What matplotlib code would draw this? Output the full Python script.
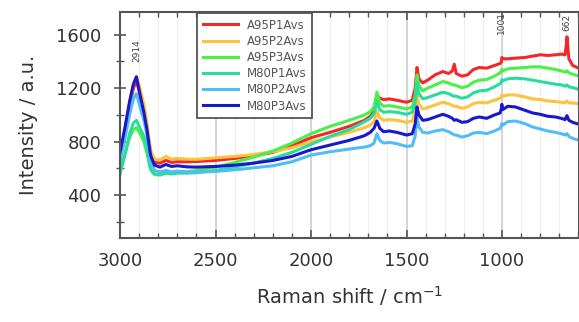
import matplotlib
matplotlib.use("Agg")
import matplotlib.pyplot as plt
from matplotlib.ticker import MultipleLocator

plt.rcParams['font.family'] = ['DejaVu Sans']

shift = [3000, 2975, 2950, 2930, 2914, 2895, 2875, 2860, 2840, 2820,
         2790, 2760, 2730, 2700, 2650, 2600, 2500, 2400, 2300, 2200,
         2100, 2000, 1900, 1800, 1720, 1690, 1670, 1655, 1640, 1620,
         1590, 1550, 1500, 1470, 1455, 1445, 1435, 1415, 1390, 1350,
         1310, 1280, 1260, 1250, 1240, 1210, 1180, 1150, 1120, 1080,
         1040, 1010, 1003, 1001, 996, 970, 930, 880, 840, 800,
         760, 720, 690, 670, 664, 660, 650, 630, 607]

a95p1 = [680, 860, 1060, 1200, 1250, 1160, 1050, 920, 710, 645,
         640, 660, 645, 650, 650, 652, 660, 675, 695, 720,
         770, 830, 870, 915, 960, 990, 1030, 1150, 1125, 1115,
         1120, 1110, 1095, 1110, 1200, 1355, 1270, 1240, 1260, 1300,
         1325, 1310, 1330, 1380, 1310, 1290, 1300, 1340, 1355, 1350,
         1370, 1385, 1395, 1430, 1420, 1420, 1425, 1430, 1440, 1450,
         1445, 1450, 1455, 1450, 1520, 1585, 1420, 1370, 1355]

a95p2 = [700, 880, 1090, 1230, 1290, 1200, 1080, 950, 740, 670,
         665, 690, 670, 675, 670, 668, 680, 690, 705, 725,
         755, 800, 835, 870, 905, 925, 950, 1030, 980, 960,
         965, 960, 945, 955, 1020, 1150, 1080, 1045, 1055, 1075,
         1095, 1085, 1070, 1065, 1065, 1050, 1060, 1085, 1095, 1090,
         1110, 1125, 1140, 1150, 1140, 1150, 1150, 1135, 1120, 1115,
         1105, 1100, 1095, 1090, 1100, 1105, 1090, 1090, 1085]

a95p3 = [570, 700, 830, 890, 905, 860, 800, 720, 590, 555,
         550, 565, 560, 570, 575, 585, 610, 645, 685, 730,
         790, 860, 915, 960, 1000, 1025, 1060, 1170, 1090, 1065,
         1070, 1060, 1045, 1060, 1140, 1300, 1220, 1180, 1200, 1225,
         1250, 1240, 1225, 1225, 1220, 1205, 1215, 1245, 1260, 1265,
         1290, 1315, 1330, 1340, 1330, 1345, 1350, 1355, 1360, 1360,
         1350, 1340, 1330, 1320, 1325, 1330, 1315, 1305, 1295]

m80p1 = [560, 700, 860, 940, 960, 900, 840, 760, 600, 560,
         555, 565, 560, 565, 565, 568, 585, 610, 640, 675,
         720, 780, 840, 890, 950, 975, 1010, 1100, 1040, 1020,
         1025, 1020, 1005, 1020, 1090, 1240, 1160, 1120, 1130, 1150,
         1170, 1160, 1145, 1140, 1140, 1125, 1135, 1165, 1180, 1185,
         1210, 1235, 1250, 1265, 1255, 1270, 1275, 1270, 1260, 1250,
         1240, 1230, 1225, 1215, 1220, 1225, 1210, 1205, 1195]

m80p2 = [650, 820, 1000, 1120, 1160, 1060, 960, 860, 650, 585,
         575, 585, 575, 580, 575, 572, 578, 590, 605, 620,
         650, 700, 725, 745, 760, 770, 790, 860, 810, 790,
         795, 785, 765, 770, 840, 980, 910, 870, 865, 880,
         890, 875, 860, 850, 850, 835, 845, 865, 870, 860,
         880, 900, 920, 935, 925, 950, 955, 935, 910, 895,
         880, 870, 860, 850, 855, 860, 840, 825, 815]

m80p3 = [720, 900, 1100, 1230, 1285, 1150, 1020, 900, 700, 625,
         610, 630, 615, 620, 612, 610, 615, 625, 640, 660,
         690, 740, 775, 810, 845, 870, 900, 955, 900, 875,
         880, 870, 850, 860, 930, 1060, 1000, 960, 965, 985,
         1005, 990, 975, 960, 965, 945, 950, 975, 985, 975,
         1000, 1015, 1050, 1080, 1040, 1065, 1060, 1035, 1015, 1005,
         990, 985, 975, 965, 985, 995, 960, 945, 935]

labels = ["A95P1Avs", "A95P2Avs", "A95P3Avs", "M80P1Avs", "M80P2Avs", "M80P3Avs"]
series = [a95p1, a95p2, a95p3, m80p1, m80p2, m80p3]
colors = ["#f42828", "#ffc23c", "#48f048", "#28dca0", "#52bcf6", "#1818cc"]

peak_labels = ["2914", "1001", "662"]
peak_pos = [2914, 1001, 662]
peak_text_y = [1480, 1690, 1690]

fig = plt.figure(figsize=(5.79, 3.22), dpi=100)
ax = fig.add_axes([120/579, 1 - 238/322, 1 - 120/579, (238 - 12)/322])

ax.set_xlim(3000, 597)
ax.set_ylim(80, 1770)

ax.xaxis.set_major_locator(MultipleLocator(500))
ax.xaxis.set_minor_locator(MultipleLocator(100))
ax.yaxis.set_major_locator(MultipleLocator(400))
ax.yaxis.set_minor_locator(MultipleLocator(200))

for v in range(700, 3000, 100):
    ax.axvline(v, color="#eeeeee", lw=0.8, zorder=0)
for v in range(1000, 3000, 500):
    ax.axvline(v, color="#cfcfcf", lw=1.2, zorder=0)

for lab, ys, c in zip(labels, series, colors):
    ax.plot(shift, ys, color=c, lw=2.2, label=lab)

for t, p, yy in zip(peak_labels, peak_pos, peak_text_y):
    ax.text(p, yy, t, rotation=90, fontsize=6.5,
            color="#444444", ha="center", va="center")

ax.tick_params(axis="x", which="both", direction="in", top=True, colors="#555555",
               labelcolor="#333333", labelsize=13, pad=10)
ax.tick_params(axis="x", which="major", length=6, width=1.2)
ax.tick_params(axis="x", which="minor", length=3.5, width=1)
ax.tick_params(axis="y", which="both", direction="inout", colors="#555555",
               labelcolor="#333333", labelsize=13, pad=9)
ax.tick_params(axis="y", which="major", length=9, width=1.2)
ax.tick_params(axis="y", which="minor", length=6, width=1)

for s in ax.spines.values():
    s.set_color("#555555")
    s.set_linewidth(1.5)

ax.set_xlabel("Raman shift / cm$^{-1}$", fontsize=14, color="#333333", labelpad=10)
ax.set_ylabel("Intensity / a.u.", fontsize=14, color="#333333", labelpad=13)

leg = ax.legend(loc="upper left", bbox_to_anchor=(0.168, 0.997), borderaxespad=0,
                fontsize=8.5, frameon=True, fancybox=False, framealpha=1,
                handlelength=3.0, handletextpad=0.7, labelspacing=0.27, borderpad=0.5)
leg.get_frame().set_edgecolor("#555555")
leg.get_frame().set_linewidth(1.3)
for t in leg.get_texts():
    t.set_color("#555555")

fig.savefig("out.png", dpi=100)
